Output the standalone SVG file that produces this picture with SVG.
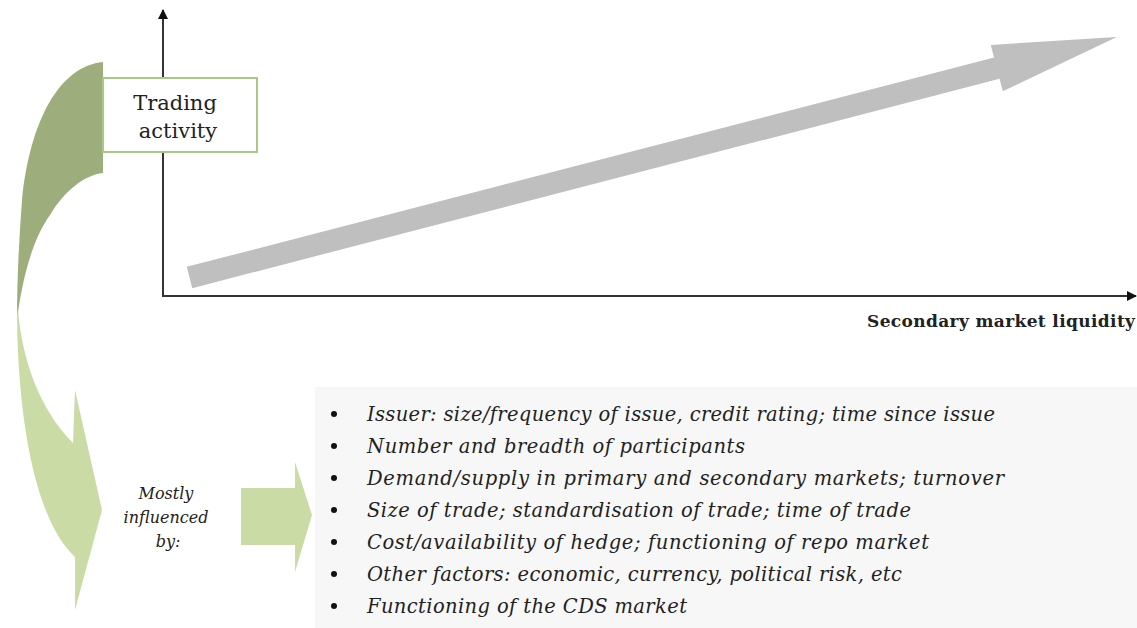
<svg xmlns="http://www.w3.org/2000/svg" width="1137" height="628" viewBox="0 0 1137 628">
<style>
.ser{font-family:"DejaVu Serif","Liberation Serif",serif;fill:#222}
.it{font-style:italic}
.list{font-size:19.5px}
.axis{stroke:#333;stroke-width:2;fill:none}
.lg{fill:#cbdba6}
.dg{fill:#9dae7c}
</style>
<defs>
<marker id="ah" viewBox="0 0 10 10" refX="9" refY="5" markerWidth="5" markerHeight="5" orient="auto">
<path d="M0,0 L10,5 L0,10 z" fill="#111"/>
</marker>
</defs>
<rect width="1137" height="628" fill="#fff"/>
<g id="list-box">
<rect x="315" y="387" width="822" height="241" fill="#f7f7f7"/>
<g class="ser it list">
<circle cx="334" cy="414" r="3" fill="#111"/>
<text x="367" y="421" textLength="628">Issuer: size/frequency of issue, credit rating; time since issue</text>
<circle cx="334" cy="446" r="3" fill="#111"/>
<text x="367" y="453" textLength="378">Number and breadth of participants</text>
<circle cx="334" cy="478" r="3" fill="#111"/>
<text x="367" y="485" textLength="637">Demand/supply in primary and secondary markets; turnover</text>
<circle cx="334" cy="510" r="3" fill="#111"/>
<text x="367" y="517" textLength="544">Size of trade; standardisation of trade; time of trade</text>
<circle cx="334" cy="542" r="3" fill="#111"/>
<text x="367" y="549" textLength="562">Cost/availability of hedge; functioning of repo market</text>
<circle cx="334" cy="574" r="3" fill="#111"/>
<text x="367" y="581" textLength="535">Other factors: economic, currency, political risk, etc</text>
<circle cx="334" cy="606" r="3" fill="#111"/>
<text x="367" y="613" textLength="320">Functioning of the CDS market</text>
</g>
</g>
<g id="axes">
<line class="axis" x1="163" y1="296" x2="163" y2="10" marker-end="url(#ah)"/>
<line class="axis" x1="162" y1="296" x2="1136" y2="296" marker-end="url(#ah)"/>
<text class="ser" x="1135" y="327" text-anchor="end" font-weight="bold" font-size="17" textLength="268">Secondary market liquidity</text>
</g>
<g id="trend-arrow">
<polygon transform="translate(189.5,277.5) rotate(-14.54)" points="0,-11 834,-11 834,-24 958,0 834,24 834,11 0,11" fill="#bfbfbf"/>
</g>
<g id="curved-arrow">
<path class="dg" d="M103,62 C60,66 30,120 22,200 C19,240 17,280 17,320 C22,280 32,240 50,215 C65,190 85,175 103,173 Z"/>
<path class="lg" d="M17,316 C18,420 35,520 75,557 L75,610 L102,510 L75,390 L73,443 C40,410 22,360 18,310 Z"/>
</g>
<g id="trading-activity">
<rect x="103" y="78" width="154" height="74" fill="#fff" stroke="#a9c882" stroke-width="2"/>
<text class="ser" x="175" y="110" text-anchor="middle" font-size="21">Trading</text>
<text class="ser" x="178" y="138" text-anchor="middle" font-size="21">activity</text>
</g>
<g id="influence">
<g class="ser it" font-size="16" text-anchor="middle">
<text x="166" y="499">Mostly</text>
<text x="166" y="523">influenced</text>
<text x="168" y="547">by:</text>
</g>
<polygon class="lg" points="241,488 295,488 295,462 312,515 295,572 295,545 241,545"/>
</g>
</svg>
